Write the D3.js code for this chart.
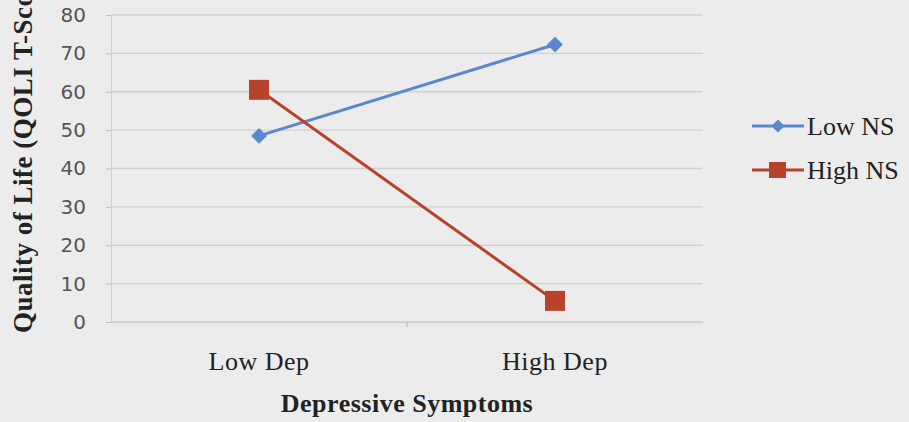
<!DOCTYPE html>
<html><head><meta charset="utf-8">
<script src="https://cdn.jsdelivr.net/npm/d3@7"></script>
<style>html,body{margin:0;padding:0;background:#ececec;}svg{display:block;}</style>
</head><body>
<svg id="c" width="909" height="422"></svg>
<script>
const categories = ["Low Dep", "High Dep"];
const seriesNames = ["Low NS", "High NS"];
const lowNS = [48.5, 72.3];
const highNS = [60.5, 5.5];
const yTicks = [0, 10, 20, 30, 40, 50, 60, 70, 80];
const colors = ["#5b88cc", "#b8432d"];

const svg = d3.select("#c");
svg.append("rect").attr("width", 909).attr("height", 422).attr("fill", "#ececec");

const m = {left: 111, right: 703, top: 15, bottom: 322};
const x = d3.scaleBand().domain(categories).range([m.left, m.right]);
const y = d3.scaleLinear().domain([0, 80]).range([m.bottom, m.top]);

// gridlines
svg.append("g").selectAll("line").data(yTicks).join("line")
  .attr("x1", m.left).attr("x2", m.right)
  .attr("y1", d => y(d)).attr("y2", d => y(d))
  .attr("stroke", "#d0d0d0").attr("stroke-width", 1.4);

// y axis
const yAxis = svg.append("g").attr("transform", `translate(${m.left},0)`)
  .call(d3.axisLeft(y).tickValues(yTicks).tickSize(5).tickPadding(20));
yAxis.select(".domain").attr("stroke", "#cfcfcf");
yAxis.selectAll(".tick line").attr("stroke", "#bdbdbd");
yAxis.selectAll("text").attr("font-family", "'DejaVu Sans', sans-serif").attr("font-size", 20).attr("fill", "#555");

// x axis
const xAxis = svg.append("g").attr("transform", `translate(0,${m.bottom})`)
  .call(d3.axisBottom(x).tickSize(0).tickPadding(30));
xAxis.select(".domain").attr("stroke", "#cfcfcf").attr("stroke-width", 1.4);
xAxis.selectAll("text").attr("font-family", "'Liberation Serif', serif").attr("font-size", 26)
  .attr("letter-spacing", 0.5).attr("fill", "#222");
svg.append("line").attr("x1", x.step() + m.left).attr("x2", x.step() + m.left)
  .attr("y1", m.bottom).attr("y2", m.bottom + 5).attr("stroke", "#c9a0a0");

// axis titles
svg.append("text").attr("transform", "translate(32,333) rotate(-90)")
  .attr("text-anchor", "start").attr("font-family", "'Liberation Serif', serif")
  .attr("font-size", 27).attr("font-weight", "bold").attr("fill", "#222")
  .attr("letter-spacing", 0.5)
  .text("Quality of Life (QOLI T-Score)");
svg.append("text").attr("x", (m.left + m.right) / 2).attr("y", 412).attr("text-anchor", "middle")
  .attr("font-family", "'Liberation Serif', serif").attr("font-size", 26)
  .attr("letter-spacing", 0.5)
  .attr("font-weight", "bold").attr("fill", "#222").text("Depressive Symptoms");

const cx = d => x(d) + x.bandwidth() / 2;
const series = [lowNS, highNS];
const line = d3.line().x((d, i) => cx(categories[i])).y(d => y(d));

series.forEach((s, k) => {
  svg.append("path").datum(s).attr("d", line).attr("fill", "none")
    .attr("stroke", colors[k]).attr("stroke-width", 3);
});
// markers
svg.append("g").selectAll("path").data(lowNS).join("path")
  .attr("d", d3.symbol(d3.symbolDiamond2, 160)())
  .attr("transform", (d, i) => `translate(${cx(categories[i])},${y(d)})`)
  .attr("fill", colors[0]);
svg.append("g").selectAll("rect").data(highNS).join("rect")
  .attr("x", (d, i) => cx(categories[i]) - 10).attr("y", d => y(d) - 10)
  .attr("width", 20).attr("height", 20).attr("fill", colors[1]);

// legend
const lg = svg.append("g");
seriesNames.forEach((n, k) => {
  const ly = 126 + k * 44;
  lg.append("line").attr("x1", 752).attr("x2", 804).attr("y1", ly).attr("y2", ly)
    .attr("stroke", colors[k]).attr("stroke-width", 3);
  if (k === 0) {
    lg.append("path").attr("d", d3.symbol(d3.symbolDiamond2, 110)())
      .attr("transform", `translate(778,${ly})`).attr("fill", colors[0]);
  } else {
    lg.append("rect").attr("x", 769).attr("y", ly - 8).attr("width", 17).attr("height", 16).attr("fill", colors[1]);
  }
  lg.append("text").attr("x", 807).attr("y", ly + 9).attr("font-family", "'Liberation Serif', serif")
    .attr("font-size", 26).attr("fill", "#222").text(n);
});
</script>
</body></html>
